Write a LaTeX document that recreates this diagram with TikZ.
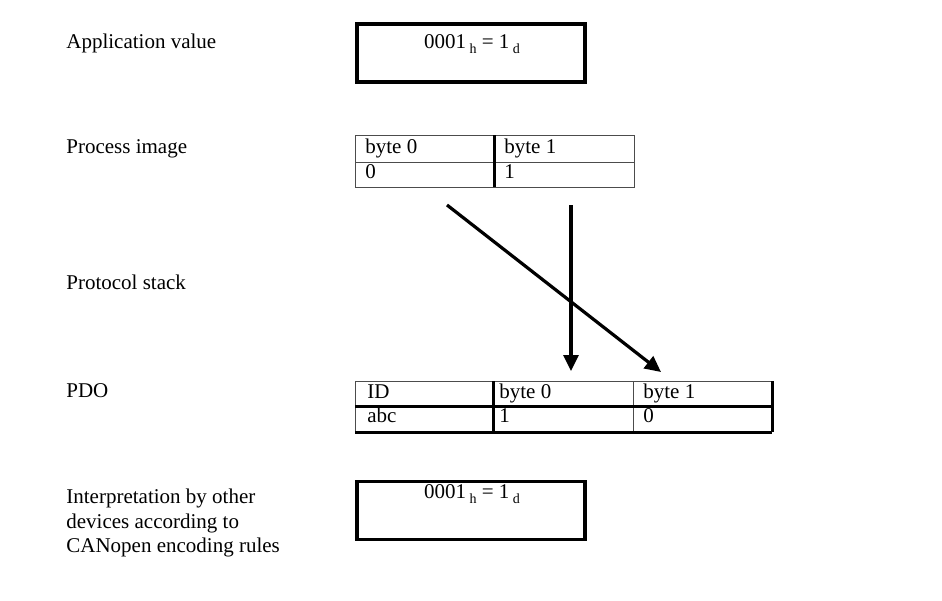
\documentclass[tikz,border=0pt]{standalone}
\usepackage{fontspec}
\setmainfont{Liberation Serif}
\usetikzlibrary{arrows.meta}

\tikzset{
	lbl/.style={anchor=base west, inner sep=0pt},
	cell/.style={anchor=base west, inner sep=0pt},
	valbox/.style={draw, line width=1.6pt, minimum width=114pt, minimum height=29pt, inner sep=0pt},
	thinline/.style={line width=0.5pt, black!70},
	thickline/.style={line width=1.5pt},
	flow/.style={line width=1.6pt, -{Triangle[length=8pt,width=7.5pt]}}
}
\newcommand{\hexval}{0001\,\raisebox{-0.6ex}{\scriptsize h} = 1\,\raisebox{-0.6ex}{\scriptsize d}}

\begin{document}
\begin{tikzpicture}[x=0.5pt,y=-0.5pt,font=\fontsize{10.5}{12.25}\selectfont]
			\useasboundingbox (0,0) rectangle (942,600);

			\node[lbl] (lapp) at (66,48) {Application value};
			\node[lbl] (lproc) at (66,153) {Process image};
			\node[lbl] (lstack) at (66,289) {Protocol stack};
			\node[lbl] (lpdo) at (66,397) {PDO};
			\node[inner sep=0pt, anchor=north west, align=left] (linterp) at (66,489)
				{Interpretation by other\\devices according to\\CANopen encoding rules};

			\node[valbox] (appbox) at (471,53) {};
			\node[inner sep=0pt, anchor=base] (apptext) at (472,48) {\hexval};

			\node[valbox] (intbox) at (471,510.5) {};
			\node[inner sep=0pt, anchor=base] (inttext) at (472,498) {\hexval};

			\draw[thinline] (355,135) rectangle (634,187);
			\draw[thinline] (355,162) -- (634,162);
			\draw[thickline] (494,135) -- (494,187);
			\node[cell] (pbyte0) at (365,153) {byte 0};
			\node[cell] (pbyte1) at (504,153) {byte 1};
			\node[cell] (pval0) at (365,178) {0};
			\node[cell] (pval1) at (504,178) {1};

			\draw[thinline] (355,381) -- (772,381);
			\foreach \x in {355,633}
				\draw[thinline] (\x,381) -- (\x,432);
			\foreach \x in {493,772}
				\draw[thickline] (\x,381) -- (\x,432);
			\foreach \y in {406,432}
				\draw[thickline] (355,\y) -- (772,\y);
			\node[cell] (did) at (367,398) {ID};
			\node[cell] (dbyte0) at (499,398) {byte 0};
			\node[cell] (dbyte1) at (643,398) {byte 1};
			\node[cell] (dabc) at (367,422) {abc};
			\node[cell] (dval1) at (499,422) {1};
			\node[cell] (dval0) at (643,422) {0};

			\coordinate (dstart) at (447,205);
			\coordinate (dend) at (661,372);
			\coordinate (vstart) at (571,205);
			\coordinate (vend) at (571,371);
			\draw[flow] (dstart) -- (dend);
			\draw[flow] (vstart) -- (vend);
		\end{tikzpicture}
\end{document}
